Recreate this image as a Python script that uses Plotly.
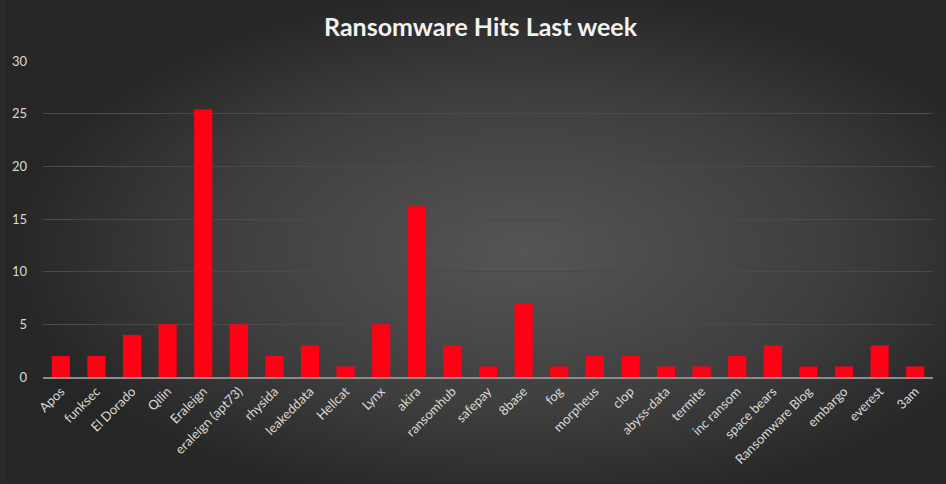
import base64
import plotly.graph_objects as go

categories = ["Apos", "funksec", "El Dorado", "Qilin", "Eraleign", "eraleign (apt73)",
              "rhysida", "leakeddata", "Hellcat", "Lynx", "akira", "ransomhub", "safepay",
              "8base", "fog", "morpheus", "clop", "abyss-data", "termite", "inc ransom",
              "space bears", "Ransomware Blog", "embargo", "everest", "3am"]
hits = [2, 2, 4, 5, 25.4, 5, 2, 3, 1, 5, 16.2, 3, 1, 7, 1, 2, 2, 1, 1, 2, 3, 1, 1, 3, 1]
y_ticks = [0, 5, 10, 15, 20, 25, 30]

W, H = 946, 484
ML, MR, MT, MB = 37, 13, 61, 106.5
PW, PH = W - ML - MR, H - MT - MB

svg = f'''<svg xmlns="http://www.w3.org/2000/svg" width="{W}" height="{H}" viewBox="0 0 {W} {H}" preserveAspectRatio="none">
<defs><radialGradient id="g" cx="0.55" cy="0.52" r="0.55" gradientUnits="objectBoundingBox">
<stop offset="0" stop-color="#555555"/><stop offset="0.6" stop-color="#3e3e3e"/><stop offset="1" stop-color="#262626"/>
</radialGradient></defs><rect width="{W}" height="{H}" fill="url(#g)"/></svg>'''
src = "data:image/svg+xml;base64," + base64.b64encode(svg.encode()).decode()

fig = go.Figure(go.Bar(x=categories, y=hits, marker=dict(color="#FF0014", line=dict(width=0))))

fig.update_layout(
    width=W, height=H,
    margin=dict(l=ML, r=MR, t=MT, b=MB, pad=0),
    paper_bgcolor="#2a2a2a", plot_bgcolor="rgba(0,0,0,0)",
    title=dict(text="<b>Ransomware Hits Last week</b>", x=0.508, xanchor="center",
               y=0.943, yanchor="middle",
               font=dict(family="Lato", size=25, color="#f2f2f2")),
    bargap=0.49,
    showlegend=False,
    hovermode=False,
    font=dict(family="Lato", size=13, color="#d9d9d9"),
    images=[dict(source=src, xref="paper", yref="paper", x=-ML / PW, y=1 + MT / PH,
                 sizex=W / PW, sizey=H / PH, xanchor="left", yanchor="top",
                 sizing="stretch", layer="below")],
)
fig.update_xaxes(tickangle=-45, showline=True, linecolor="#8c8c8c", linewidth=1.5,
                 showgrid=False, ticks="", tickfont=dict(family="Lato", size=13, color="#d9d9d9"))
fig.update_yaxes(range=[0, 30], tickvals=y_ticks, showgrid=True, gridcolor="#4a4a4a",
                 gridwidth=1, zeroline=False, ticks="", ticklabelstandoff=15,
                 tickfont=dict(family="Lato", size=13, color="#d9d9d9"))

fig.write_html("out.html", config={"displayModeBar": False},
               post_script="document.body.style.margin='0';document.body.style.background='#2a2a2a';document.body.style.overflow='hidden';")
